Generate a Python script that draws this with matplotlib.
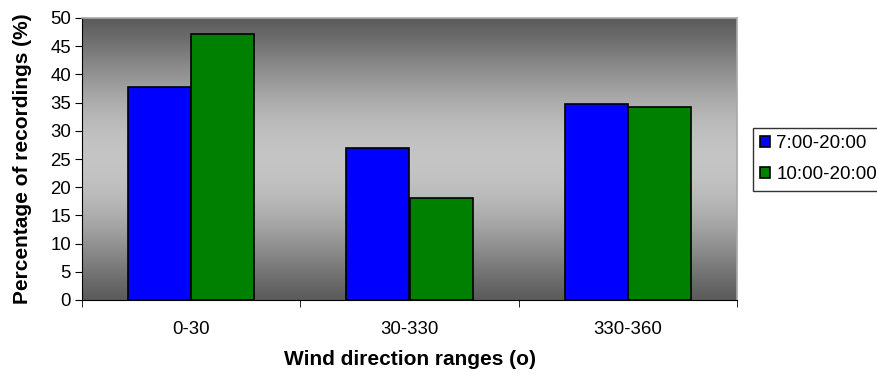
import numpy as np
import matplotlib.pyplot as plt

plt.rcParams['font.family'] = ['Liberation Sans', 'DejaVu Sans']

categories = ["0-30", "30-330", "330-360"]
series_names = ["7:00-20:00", "10:00-20:00"]
morning = [37.7, 27.0, 34.8]
day = [47.2, 18.1, 34.3]
bar_colors = ["#0000ff", "#008000"]

fig = plt.figure(figsize=(8.77, 3.76), dpi=100)
ax = fig.add_axes([82 / 877, 1 - 300 / 376, (737 - 82) / 877, (300 - 18) / 376])

# vertical grey gradient: dark at top and bottom, light in the middle
t = np.linspace(0, 1, 256)
shade = 0.36 + 0.41 * np.sin(np.pi * t) ** 1.2
grad = np.dstack([shade, shade, shade]).reshape(256, 1, 3)
ax.imshow(grad, extent=[-0.5, 2.5, 0, 50], aspect='auto', zorder=0, origin='lower')

x = np.arange(len(categories))
w = 0.29
ax.bar(x - w / 2, morning, w, color=bar_colors[0], edgecolor='black', linewidth=1.2,
       label=series_names[0], zorder=2)
ax.bar(x + w / 2, day, w, color=bar_colors[1], edgecolor='black', linewidth=1.2,
       label=series_names[1], zorder=2)

ax.set_xlim(-0.5, 2.5)
ax.set_ylim(0, 50)
ax.set_yticks(range(0, 51, 5))
ax.set_xticks(x)
ax.set_xticklabels(categories, fontsize=13.4)
ax.set_xticks([-0.5, 0.5, 1.5, 2.5], minor=True)
ax.tick_params(axis='x', which='major', length=0, pad=15)
ax.tick_params(axis='x', which='minor', length=5, direction='out', color='black')
ax.tick_params(axis='y', length=5, direction='out', labelsize=13.4, pad=3)

for side in ['top', 'right']:
    ax.spines[side].set_color('#a8a8a8')
    ax.spines[side].set_linewidth(1.2)
ax.spines['left'].set_color('black')
ax.spines['bottom'].set_color('black')

ax.set_ylabel("Percentage of recordings (%)", fontsize=15, fontweight='bold', labelpad=13)
ax.set_xlabel("Wind direction ranges (o)", fontsize=15, fontweight='bold', labelpad=9)

leg = fig.legend(loc='upper left', bbox_to_anchor=(0.8586, 0.66), fontsize=13.5,
                 frameon=True, fancybox=False, handlelength=0.5, handleheight=0.5,
                 handletextpad=0.35, borderpad=0.4, borderaxespad=0, labelspacing=0.75)
leg.get_frame().set_edgecolor('black')
leg.get_frame().set_linewidth(1.0)

fig.savefig("out.png", dpi=100)
